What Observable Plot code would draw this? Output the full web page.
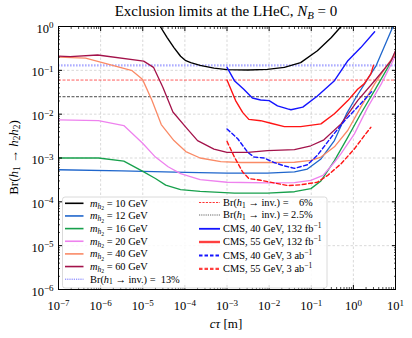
<!DOCTYPE html>
<html><head><meta charset="utf-8">
<script src="https://cdn.jsdelivr.net/npm/d3@7"></script>
<script src="https://cdn.jsdelivr.net/npm/@observablehq/plot@0.6"></script>
<style>body{margin:0;background:#fff}</style>
</head><body><div id="chart"></div>
<script>
// ---- data (cτ in m, Br(h1 -> h2h2)) ----
const m10_ctau = [2.6e-5, 3.8e-5, 5.5e-5, 7.9e-5, 1.05e-4, 1.38e-4, 2.3e-4, 4.9e-4, 1.0e-3, 3.1e-3, 9.1e-3, 0.023, 0.056, 0.14, 0.30, 0.51];
const m10_br   = [1.0, 0.56, 0.33, 0.21, 0.166, 0.15, 0.13, 0.112, 0.104, 0.102, 0.105, 0.117, 0.15, 0.28, 0.56, 1.0];
const m12_ctau = [1e-7, 3.2e-6, 1.05e-4, 1e-3, 9.1e-3, 0.04, 0.081, 0.17, 0.355, 0.68, 1.15, 3.5, 8.7];
const m12_br   = [0.00054, 0.00051, 0.00047, 0.00045, 0.00045, 0.00048, 0.00056, 0.00095, 0.0025, 0.01, 0.024, 0.13, 1.0];
const m16_ctau = [1e-7, 8.9e-7, 3.55e-6, 9.8e-6, 2.0e-5, 3.5e-5, 7.9e-5, 2.3e-4, 1.5e-3, 9.1e-3, 0.04, 0.098, 0.17, 0.355, 0.74, 1.5, 3.2, 6.6, 10];
const m16_br   = [0.001, 0.001, 0.00085, 0.0005, 0.00034, 0.00024, 0.00019, 0.000174, 0.000158, 0.000158, 0.00017, 0.0002, 0.0003, 0.00087, 0.003, 0.0102, 0.035, 0.117, 0.27];
const m20_ctau = [1e-7, 8.9e-7, 3.55e-6, 9.8e-6, 2.0e-5, 4.0e-5, 7.9e-5, 2.3e-4, 1.0e-3, 9.1e-3, 0.04, 0.098, 0.19, 0.355, 0.51, 1.05, 2.2, 4.6, 8.7, 10];
const m20_br   = [0.0074, 0.0071, 0.0055, 0.0022, 0.00105, 0.00063, 0.00044, 0.00032, 0.00028, 0.00027, 0.000275, 0.00031, 0.0004, 0.0008, 0.00126, 0.0035, 0.0145, 0.049, 0.166, 0.22];
const m40_ctau = [1e-7, 4.4e-7, 5.6e-6, 9.8e-6, 1.66e-5, 2.75e-5, 5.5e-5, 1.05e-4, 2.3e-4, 7.1e-4, 2.1e-3, 9.1e-3, 0.04, 0.098, 0.17, 0.355, 0.74, 1.5, 3.2, 6.6, 10];
const m40_br   = [0.2, 0.19, 0.098, 0.063, 0.0204, 0.0058, 0.0025, 0.0014, 0.001, 0.00083, 0.00079, 0.00079, 0.0008, 0.00088, 0.00105, 0.0018, 0.0043, 0.0145, 0.049, 0.138, 0.24];
const m60_ctau = [1e-7, 1.9e-7, 8.5e-7, 1.05e-5, 1.8e-5, 3.0e-5, 5.2e-5, 1.1e-4, 2.0e-4, 4.9e-4, 1.0e-3, 3.1e-3, 9.1e-3, 0.04, 0.098, 0.2, 0.51, 1.26, 3.2, 7.9, 10];
const m60_br   = [0.21, 0.205, 0.224, 0.162, 0.117, 0.041, 0.0112, 0.0048, 0.0025, 0.0016, 0.00135, 0.00135, 0.00148, 0.00155, 0.0019, 0.0026, 0.006, 0.0204, 0.058, 0.166, 0.28];
const cms40_132_ctau = [1.0e-3, 1.5e-3, 2.5e-3, 4.0e-3, 6.3e-3, 0.01, 0.0158, 0.0275, 0.033, 0.063, 0.14, 0.355, 0.74, 1.5, 3.2];
const cms40_132_br   = [0.117, 0.058, 0.037, 0.0234, 0.021, 0.0204, 0.0155, 0.0132, 0.0126, 0.0145, 0.026, 0.058, 0.166, 0.33, 0.76];
const cms55_132_ctau = [1.0e-3, 1.6e-3, 2.35e-3, 3.3e-3, 6.3e-3, 0.011, 0.023, 0.056, 0.17, 0.355, 0.74, 1.26, 1.8, 2.6, 3.0];
const cms55_132_br   = [0.06, 0.0204, 0.011, 0.0076, 0.0071, 0.0062, 0.0052, 0.0052, 0.006, 0.0102, 0.0204, 0.037, 0.049, 0.083, 0.13];
const cms40_3ab_ctau = [1.0e-3, 1.8e-3, 3.1e-3, 4.4e-3, 7.6e-3, 0.013, 0.023, 0.04, 0.081, 0.14, 0.3, 0.62, 1.26, 2.2, 2.9];
const cms40_3ab_br   = [0.0046, 0.00275, 0.00135, 0.00105, 0.001, 0.00079, 0.00066, 0.00058, 0.0007, 0.00115, 0.003, 0.0071, 0.0145, 0.026, 0.035];
const cms55_3ab_ctau = [1.0e-3, 1.5e-3, 2.35e-3, 3.3e-3, 6.3e-3, 0.013, 0.0275, 0.056, 0.14, 0.245, 0.51, 1.05, 1.8, 2.6];
const cms55_3ab_br   = [0.0024, 0.00105, 0.00048, 0.00034, 0.00031, 0.00027, 0.000235, 0.000245, 0.00028, 0.0004, 0.00074, 0.0016, 0.0032, 0.005];
const brInv = [0.13, 0.06, 0.025];
const massLabels = ["10", "12", "16", "20", "40", "60"];
const brInvLabels = ["13%", "6%", "2.5%"];
const xMajor = [1e-7, 1e-6, 1e-5, 1e-4, 1e-3, 1e-2, 1e-1, 1, 10];
const yMajor = [1e-6, 1e-5, 1e-4, 1e-3, 1e-2, 1e-1, 1];

// ---- build tables ----
const series = [
  {key: "m10", ctau: m10_ctau, br: m10_br},
  {key: "m12", ctau: m12_ctau, br: m12_br},
  {key: "m16", ctau: m16_ctau, br: m16_br},
  {key: "m20", ctau: m20_ctau, br: m20_br},
  {key: "m40", ctau: m40_ctau, br: m40_br},
  {key: "m60", ctau: m60_ctau, br: m60_br},
  {key: "cms40_132", ctau: cms40_132_ctau, br: cms40_132_br},
  {key: "cms55_132", ctau: cms55_132_ctau, br: cms55_132_br},
  {key: "cms40_3ab", ctau: cms40_3ab_ctau, br: cms40_3ab_br},
  {key: "cms55_3ab", ctau: cms55_3ab_ctau, br: cms55_3ab_br}
];
const rows = series.flatMap(s => s.ctau.map((c, i) => ({series: s.key, ctau: c, br: s.br[i]})));

const style = {
  m10: {stroke: "#000000", strokeWidth: 1.4},
  m12: {stroke: "#1f66cc", strokeWidth: 1.3},
  m16: {stroke: "#17a04c", strokeWidth: 1.3},
  m20: {stroke: "#ee82ee", strokeWidth: 1.3},
  m40: {stroke: "#fa8a66", strokeWidth: 1.3},
  m60: {stroke: "#a3124a", strokeWidth: 1.3},
  cms40_132: {stroke: "#1414ff", strokeWidth: 1.4},
  cms55_132: {stroke: "#ff1414", strokeWidth: 1.4},
  cms40_3ab: {stroke: "#1414ff", strokeWidth: 1.4, strokeDasharray: "4,2.5"},
  cms55_3ab: {stroke: "#ff1414", strokeWidth: 1.4, strokeDasharray: "4,2.5"}
};
const invStyle = [
  {stroke: "#6a6aff", strokeOpacity: 0.55, strokeWidth: 2.2, strokeDasharray: "1.6,1.4"},
  {stroke: "#ff0000", strokeOpacity: 0.8, strokeWidth: 0.8, strokeDasharray: "3,1.5"},
  {stroke: "#000000", strokeOpacity: 0.9, strokeWidth: 0.8, strokeDasharray: "3,1.5"}
];

const decades = xMajor.slice(0, -1);
const xMinor = decades.flatMap(v => [2, 3, 4, 5, 6, 7, 8, 9].map(k => k * v));
const yMinor = yMajor.slice(0, -1).flatMap(v => [2, 3, 4, 5, 6, 7, 8, 9].map(k => k * v));
const fmt = v => "10^" + String(Math.round(Math.log10(v))).replace("-", "\u2212");
const blank = () => "";

const FONT = "'Liberation Serif', 'DejaVu Serif', serif";

const svg = Plot.plot({
  width: 412, height: 338,
  marginLeft: 58, marginRight: 17, marginTop: 26, marginBottom: 49,
  style: {fontFamily: FONT, fontSize: "12px", background: "#fff", color: "#000", overflow: "visible"},
  x: {type: "log", domain: [1e-7, 10]},
  y: {type: "log", domain: [1e-6, 1]},
  marks: [
    Plot.ruleX(xMajor.slice(1, -1), {stroke: "#c8c8c8", strokeWidth: 0.7, strokeDasharray: "2.5,2"}),
    Plot.ruleY(yMajor.slice(1, -1), {stroke: "#c8c8c8", strokeWidth: 0.7, strokeDasharray: "2.5,2"}),
    ...brInv.map((v, i) => Plot.ruleY([v], invStyle[i])),
    ...series.map(s => Plot.line(rows.filter(r => r.series === s.key), {x: "ctau", y: "br", ...style[s.key], clip: true})),
    Plot.frame({stroke: "#000", strokeWidth: 1}),
    Plot.axisX(xMajor, {anchor: "bottom", tickSize: 0, tickPadding: 12, tickFormat: fmt, label: null, fontSize: 12.5}),
    Plot.axisX(xMajor, {anchor: "bottom", tickSize: -4, tickFormat: blank, label: null}),
    Plot.axisX(xMinor, {anchor: "bottom", tickSize: -2, tickFormat: blank, label: null, strokeWidth: 0.7}),
    Plot.axisX(xMajor, {anchor: "top", tickSize: -4, tickFormat: blank, label: null}),
    Plot.axisX(xMinor, {anchor: "top", tickSize: -2, tickFormat: blank, label: null, strokeWidth: 0.7}),
    Plot.axisY(yMajor, {anchor: "left", tickSize: 0, tickPadding: 5, tickFormat: fmt, label: null, fontSize: 12.5, dy: 2}),
    Plot.axisY(yMajor, {anchor: "left", tickSize: -4, tickFormat: blank, label: null}),
    Plot.axisY(yMinor, {anchor: "left", tickSize: -2, tickFormat: blank, label: null, strokeWidth: 0.7}),
    Plot.axisY(yMajor, {anchor: "right", tickSize: -4, tickFormat: blank, label: null}),
    Plot.axisY(yMinor, {anchor: "right", tickSize: -2, tickFormat: blank, label: null, strokeWidth: 0.7})
  ]
});
document.getElementById("chart").appendChild(svg);

const S = d3.select(svg);
// superscript tick labels
S.selectAll('g[aria-label$="tick label"] text').each(function () {
  const t = this.textContent;
  if (!t.includes("^")) return;
  const [b, e] = t.split("^");
  this.textContent = "";
  const sel = d3.select(this);
  sel.append("tspan").text(b);
  sel.append("tspan").text(e).attr("font-size", "0.72em").attr("dy", "-0.5em");
});

function rich(sel, parts, fs) {
  let cur = 0;
  for (const p of parts) {
    const off = (p.off || 0) * fs;
    const ts = sel.append("tspan").text(p.t).attr("dy", off - cur);
    cur = off;
    if (p.i) ts.attr("font-style", "italic");
    if (p.s) ts.attr("font-size", fs * p.s);
  }
}
const sub = (t, i) => ({t, i, s: 0.72, off: 0.18});
const sup = (t) => ({t, s: 0.72, off: -0.4});

// title
rich(S.append("text").attr("x", 226).attr("y", 16).attr("text-anchor", "middle")
  .attr("font-family", FONT).attr("font-size", 15).style("white-space", "pre"),
  [{t: "Exclusion limits at the LHeC, "}, {t: "N", i: true}, sub("B", true), {t: " = 0"}], 15);

// axis labels
rich(S.append("text").attr("x", 226).attr("y", 328).attr("text-anchor", "middle")
  .attr("font-family", FONT).attr("font-size", 13).style("white-space", "pre"),
  [{t: "c\u03c4", i: true}, {t: " [m]"}], 13);
rich(S.append("text").attr("transform", "translate(18,157.5) rotate(-90)").attr("text-anchor", "middle")
  .attr("font-family", FONT).attr("font-size", 13).style("white-space", "pre"),
  [{t: "Br("}, {t: "h", i: true}, sub("1"), {t: " \u2192 "}, {t: "h", i: true}, sub("2"), {t: "h", i: true}, sub("2"), {t: ")"}], 13);

// legend
const L = S.append("g").attr("font-family", FONT).attr("text-anchor", "start").style("white-space", "pre");
L.append("rect").attr("x", 62.5).attr("y", 197).attr("width", 264.5).attr("height", 91)
  .attr("rx", 2.5).attr("fill", "#fff").attr("fill-opacity", 0.85).attr("stroke", "#d0d0d0").attr("stroke-width", 0.8);
const LFS = 10.4;
const massKeys = ["m10", "m12", "m16", "m20", "m40", "m60"];
const leftRows = massKeys.map((k, i) => ({
  st: {...style[k], strokeWidth: 1.6},
  parts: [{t: "m", i: true}, sub("h", true), {t: "2", s: 0.55, off: 0.34}, {t: " = " + massLabels[i] + " GeV"}]
}));
leftRows.push({st: {stroke: "#5a5aff", strokeWidth: 0.9, strokeDasharray: "1.2,1"},
  parts: [{t: "Br("}, {t: "h", i: true}, sub("1"), {t: " \u2192 inv.) =  " + brInvLabels[0]}]});
const rightRows = [
  {st: {stroke: "#ff0000", strokeWidth: 0.8, strokeDasharray: "2.2,1.2"},
   parts: [{t: "Br("}, {t: "h", i: true}, sub("1"), {t: " \u2192 inv.) =    " + brInvLabels[1]}]},
  {st: {stroke: "#555", strokeWidth: 0.9, strokeDasharray: "1.2,1"},
   parts: [{t: "Br("}, {t: "h", i: true}, sub("1"), {t: " \u2192 inv.) = " + brInvLabels[2]}]},
  {st: {...style.cms40_132, strokeWidth: 1.8}, parts: [{t: "CMS, 40 GeV, 132 fb"}, sup("\u22121")]},
  {st: {...style.cms55_132, stroke: "#ff4040", strokeWidth: 2.4}, parts: [{t: "CMS, 55 GeV, 132 fb"}, sup("\u22121")]},
  {st: {...style.cms40_3ab, strokeWidth: 1.8, strokeDasharray: "3.5,2"}, parts: [{t: "CMS, 40 GeV, 3 ab"}, sup("\u22121")]},
  {st: {...style.cms55_3ab, stroke: "#ff4040", strokeWidth: 2.2, strokeDasharray: "3.5,2"}, parts: [{t: "CMS, 55 GeV, 3 ab"}, sup("\u22121")]}
];
function drawRow(r, x1, x2, tx, y) {
  const ln = L.append("line").attr("x1", x1).attr("x2", x2).attr("y1", y).attr("y2", y)
    .attr("stroke", r.st.stroke).attr("stroke-width", r.st.strokeWidth);
  if (r.st.strokeDasharray) ln.attr("stroke-dasharray", r.st.strokeDasharray);
  rich(L.append("text").attr("x", tx).attr("y", y + 3.4).attr("font-size", LFS).attr("text-anchor", "start"), r.parts, LFS);
}
leftRows.forEach((r, i) => drawRow(r, 65, 83.5, 90, 203.3 + i * 12.65));
const rightY = [202.5, 215, 228.8, 242, 255.5, 268.8];
rightRows.forEach((r, i) => drawRow(r, 199, 220, 223, rightY[i]));
</script>
</body></html>
